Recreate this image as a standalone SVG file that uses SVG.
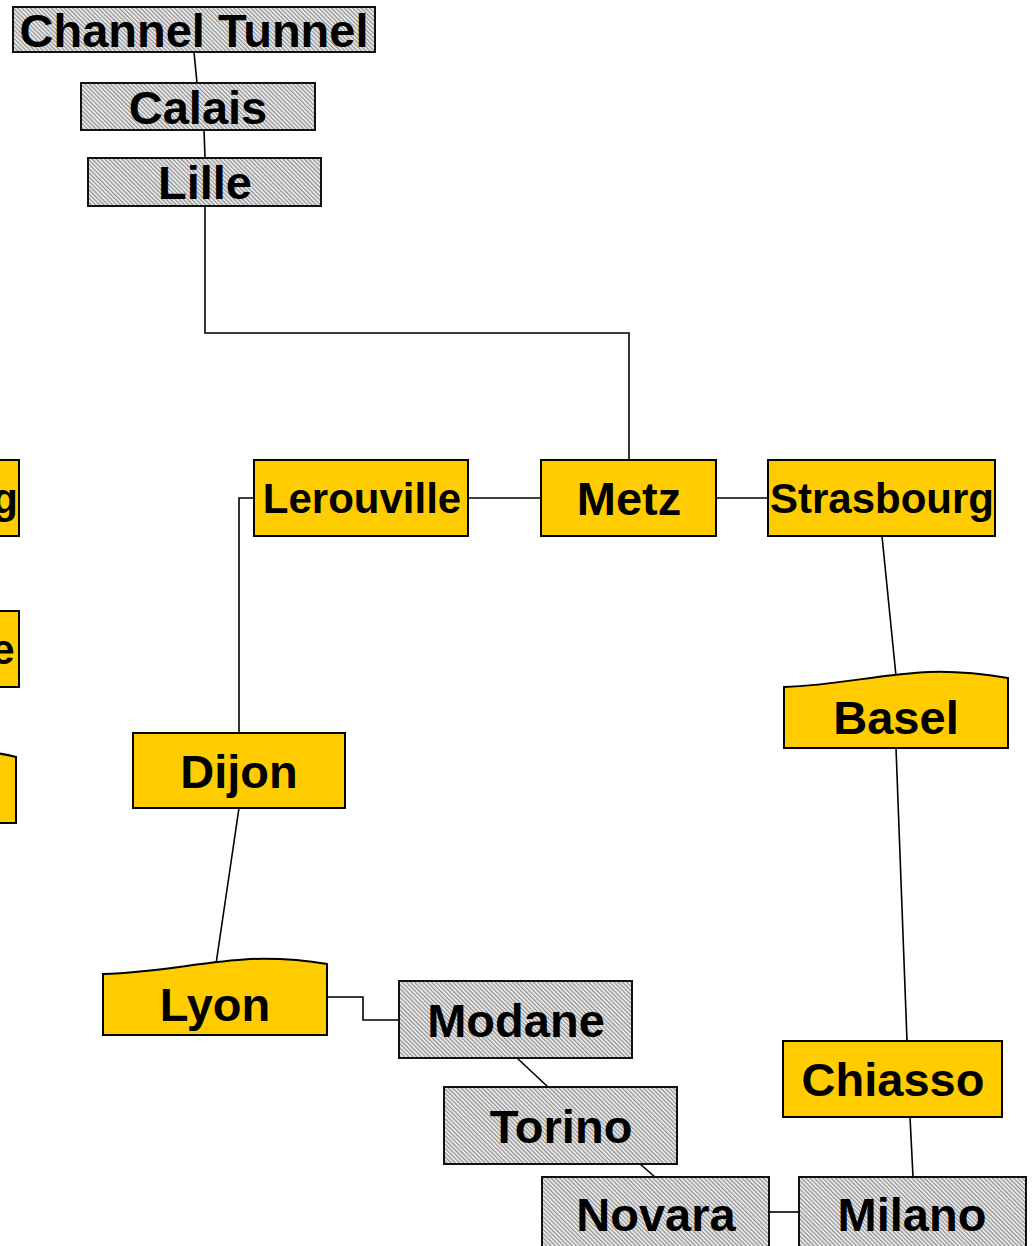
<svg xmlns="http://www.w3.org/2000/svg" width="1036" height="1246" viewBox="0 0 1036 1246">
<style>
.y{fill:#FFCC00;stroke:#000;stroke-width:2}
.h{fill:url(#hatch);stroke:#111;stroke-width:2}
.t{font-family:"Liberation Sans",Arial,sans-serif;font-weight:bold;font-size:47px;fill:#000;text-anchor:middle}
.s{font-size:42px}
.c{fill:none;stroke:#000;stroke-width:1.6}
</style>
<defs>
<pattern id="hatch" patternUnits="userSpaceOnUse" width="3" height="3" patternTransform="rotate(-45)">
<rect width="3" height="3" fill="#f4f4f4"/>
<line x1="0.7" y1="0" x2="0.7" y2="3" stroke="#8c8c8c" stroke-width="1.3"/>
</pattern>
</defs>
<rect width="1036" height="1246" fill="#fff"/>
<g id="connectors">
<path class="c" d="M194,52 L197,83"/>
<path class="c" d="M204,130 L205,158"/>
<path class="c" d="M205,206 V333 H629 V460"/>
<path class="c" d="M468,498 H541"/>
<path class="c" d="M716,498 H768"/>
<path class="c" d="M254,498 H239 V733"/>
<path class="c" d="M882,536 L896,676"/>
<path class="c" d="M896,748 L907,1041"/>
<path class="c" d="M910,1117 L913,1177"/>
<path class="c" d="M239,808 L216,964"/>
<path class="c" d="M328,997 H363 V1020 H399"/>
<path class="c" d="M517,1058 L548,1087"/>
<path class="c" d="M640,1164 L655,1177"/>
<path class="c" d="M769,1212 H799"/>
</g>
<g id="partial-1"><rect class="y" x="-60" y="460" width="79" height="76"/><text class="t s" x="5" y="513">g</text></g>
<g id="partial-2"><rect class="y" x="-60" y="611" width="79" height="76"/><text class="t s" x="3" y="664">e</text></g>
<g id="partial-3"><path class="y" d="M-60,748 C-30,749 0,753 16,757 V823 H-60 Z"/></g>
<g id="channel-tunnel"><rect class="h" x="13" y="7" width="362" height="45"/><text class="t" x="194" y="47">Channel Tunnel</text></g>
<g id="calais"><rect class="h" x="81" y="83" width="234" height="47"/><text class="t" x="198" y="124">Calais</text></g>
<g id="lille"><rect class="h" x="88" y="158" width="233" height="48"/><text class="t" x="205" y="199">Lille</text></g>
<g id="lerouville"><rect class="y" x="254" y="460" width="214" height="76"/><text class="t s" x="362" y="513">Lerouville</text></g>
<g id="metz"><rect class="y" x="541" y="460" width="175" height="76"/><text class="t" x="629" y="515">Metz</text></g>
<g id="strasbourg"><rect class="y" x="768" y="460" width="227" height="76"/><text class="t s" x="882" y="513">Strasbourg</text></g>
<g id="basel"><path class="y" d="M784,687 C840,685 880,674 930,672 C965,671 990,675 1008,678 V748 H784 Z"/><text class="t" x="896" y="734">Basel</text></g>
<g id="dijon"><rect class="y" x="133" y="733" width="212" height="75"/><text class="t" x="239" y="788">Dijon</text></g>
<g id="lyon"><path class="y" d="M103,974 C160,972 200,962 250,959 C285,958 310,961 327,964 V1035 H103 Z"/><text class="t" x="215" y="1021">Lyon</text></g>
<g id="modane"><rect class="h" x="399" y="981" width="233" height="77"/><text class="t" x="516" y="1037">Modane</text></g>
<g id="torino"><rect class="h" x="444" y="1087" width="233" height="77"/><text class="t" x="561" y="1143">Torino</text></g>
<g id="chiasso"><rect class="y" x="783" y="1041" width="219" height="76"/><text class="t" x="893" y="1096">Chiasso</text></g>
<g id="novara"><rect class="h" x="542" y="1177" width="227" height="77"/><text class="t" x="656" y="1231">Novara</text></g>
<g id="milano"><rect class="h" x="799" y="1177" width="227" height="77"/><text class="t" x="912" y="1231">Milano</text></g>
</svg>
